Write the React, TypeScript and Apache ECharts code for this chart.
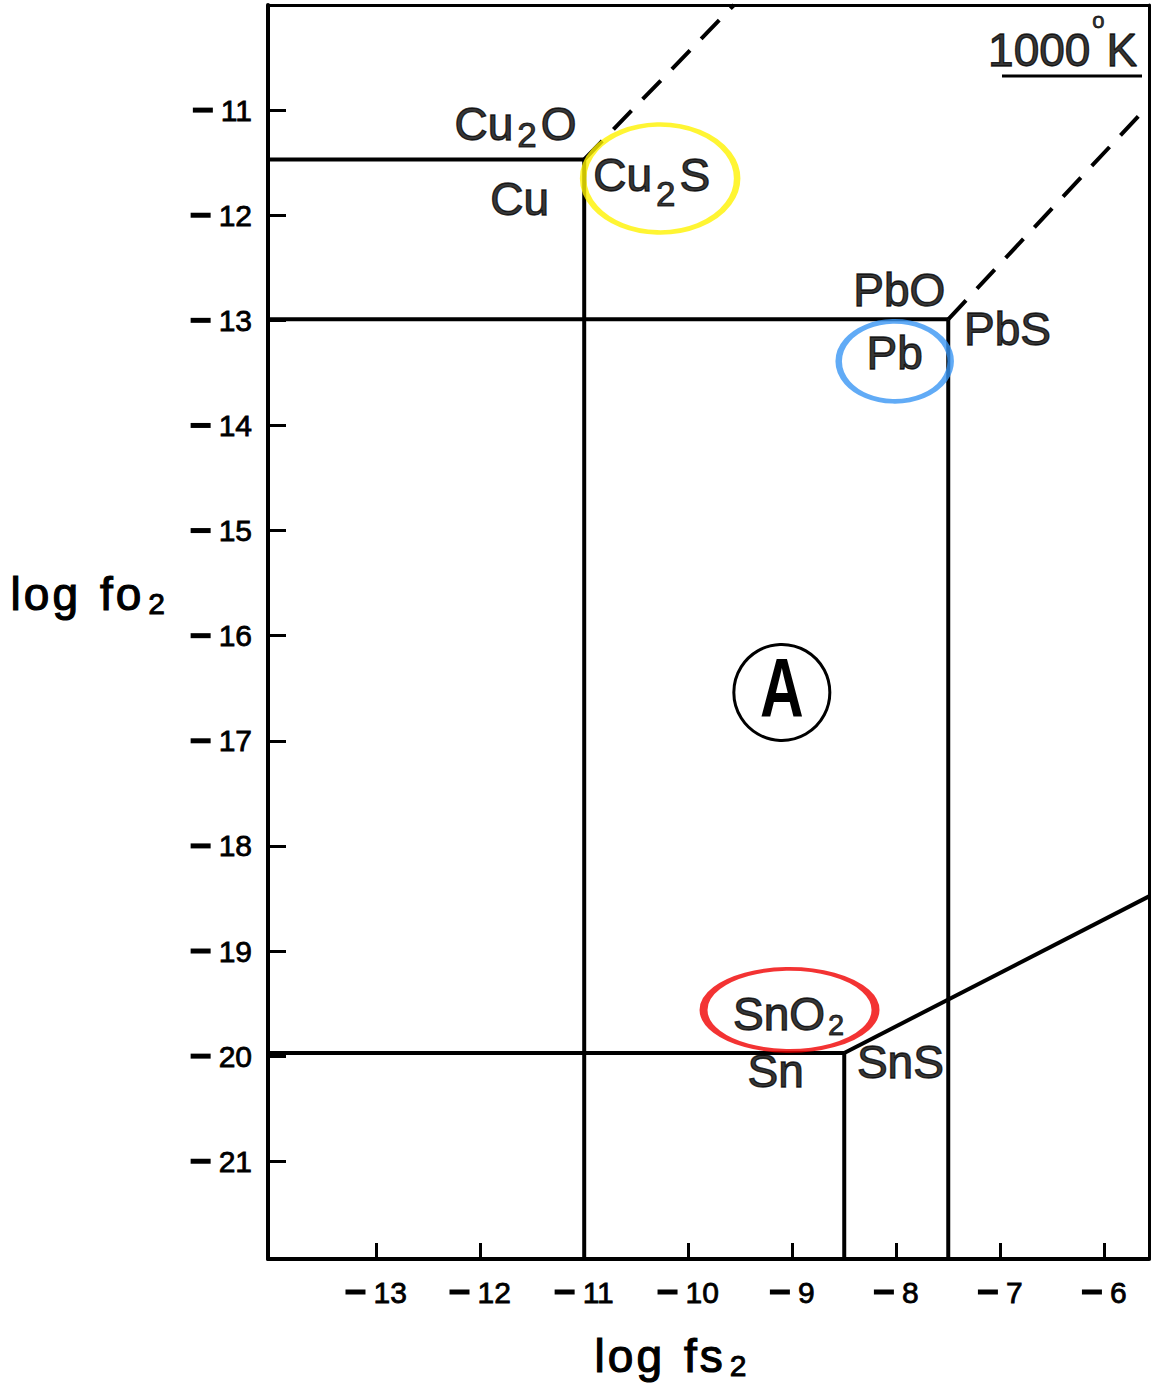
import React, { useEffect, useRef } from 'react';
import * as echarts from 'echarts';

// ---- axis extents and ticks (log fS2 on x, log fO2 on y) ----
const X_MIN = -14.04;
const X_MAX = -5.57;
const Y_MIN = -21.93;
const Y_MAX = -10;
const X_TICKS = [-13, -12, -11, -10, -9, -8, -7, -6];
const Y_TICKS = [-11, -12, -13, -14, -15, -16, -17, -18, -19, -20, -21];

// ---- phase boundaries [log fS2, log fO2] ----
const cuOxideBoundary = [[X_MIN, -11.47], [-11, -11.47]];
const cuSulfideBoundary = [[-11, -11.47], [-11, Y_MIN]];
const cuOxideSulfideDashed = [[-11, -11.47], [-9.56, Y_MAX]];
const pbOxideBoundary = [[X_MIN, -12.99], [-7.5, -12.99]];
const pbSulfideBoundary = [[-7.5, -12.99], [-7.5, Y_MIN]];
const pbOxideSulfideDashed = [[-7.5, -12.99], [X_MAX, -10.95]];
const snOxideBoundary = [[X_MIN, -19.97], [-8.5, -19.97]];
const snSulfideBoundary = [[-8.5, -19.97], [-8.5, Y_MIN]];
const snOxideSulfideBoundary = [[-8.5, -19.97], [X_MAX, -18.48]];

// ---- field labels ----
const labelTexts = [
  '{m|Cu}{s|2}{m|O}',
  '{m|Cu}',
  '{m|Cu}{t|2}{m|S}',
  '{m|PbO}',
  '{m|PbS}',
  '{m|Pb}',
  '{m|SnO}{u|2}',
  '{m|Sn}',
  '{m|SnS}',
  '{m|1000}{d|o}{m|K}',
];
const labelPositions = [
  [-11.66, -11.13],
  [-11.62, -11.85],
  [-10.35, -11.62],
  [-7.97, -12.71],
  [-6.93, -13.08],
  [-8.015, -13.31],
  [-9.035, -19.6],
  [-9.16, -20.14],
  [-7.96, -20.06],
  [-6.4, -10.43],
];

// ---- highlight rings around labels ----
const ringPositions = [
  [-10.27, -11.65],
  [-8.015, -13.39],
  [-9.026, -19.56],
];
const ringSizes = [
  [154, 108],
  [112, 80],
  [172, 82],
];
const ringColors = ['#FFF200', '#3A96F4', '#F00000'];

// ---- circled field marker ----
const fieldMarkerPosition = [-9.1, -16.54];
const fieldMarkerText = 'A';

const FONT = '"Liberation Sans", Arial, Helvetica, sans-serif';

const lineSeries = (data: number[][], dashed = false) => ({
  type: 'line',
  data,
  symbol: 'none',
  silent: true,
  clip: false,
  lineStyle: {
    color: '#000',
    width: 4,
    type: dashed ? [26, 16] : 'solid',
    cap: 'butt',
  },
  z: 2,
});

const tok = (fontSize: number, extra: any = {}) => ({
  fontSize,
  color: '#000',
  fontFamily: FONT,
  textBorderColor: '#000',
  textBorderWidth: 1.3,
  verticalAlign: 'middle',
  ...extra,
});

const richStyles = {
  m: tok(46, { lineHeight: 90 }),
  s: tok(35, { lineHeight: 35, padding: [22, 4, 0, 4], textBorderWidth: 1 }),
  t: tok(35, { lineHeight: 35, padding: [36, 4, 0, 4], textBorderWidth: 1 }),
  u: tok(29, { lineHeight: 29, padding: [21, 0, 0, 3], textBorderWidth: 0.9 }),
  d: tok(22, { lineHeight: 22, padding: [0, 2, 60, 2], textBorderWidth: 0.8 }),
};

// zrender-style rich tokens for graphic texts
const gtok = (fontSize: number, extra: any = {}) => ({
  fontSize,
  fontFamily: FONT,
  fill: '#000',
  stroke: '#000',
  lineWidth: 1.2,
  verticalAlign: 'middle',
  ...extra,
});
const titleRich = {
  m: gtok(46, { lineHeight: 50 }),
  k: gtok(46, { lineHeight: 50, width: 3, lineWidth: 0 }),
  g: gtok(46, { lineHeight: 50, width: 22, lineWidth: 0 }),
  s: gtok(30, { lineHeight: 30, padding: [19, 0, 0, 7], lineWidth: 0.9 }),
};
const spaced = (word: string) => word.split('').map((c) => '{m|' + c + '}').join('{k| }');

const tickRich = {
  n: { width: 20, height: 5, lineHeight: 5, backgroundColor: '#000', fontSize: 5, verticalAlign: 'middle' },
  sp: { width: 8, fontSize: 30, verticalAlign: 'middle' },
  d: { fontSize: 30, color: '#000', fontFamily: FONT, textBorderColor: '#000', textBorderWidth: 0.8, verticalAlign: 'middle' },
};
const tickFormatter = (v: number) => '{n| }{sp| }{d|' + Math.abs(v) + '}';

export default function App() {
  const ref = useRef<HTMLDivElement>(null);

  useEffect(() => {
    if (!ref.current) return;
    const chart = echarts.init(ref.current, undefined, { renderer: 'svg' });

    const option: any = {
      animation: false,
      backgroundColor: '#fff',
      grid: { left: 268, top: 5, width: 881, height: 1254, containLabel: false },
      xAxis: [
        {
          type: 'value',
          min: X_MIN,
          max: X_MAX,
          position: 'bottom',
          axisLine: { show: true, onZero: false, lineStyle: { color: '#000', width: 4 } },
          axisTick: { show: true, inside: true, length: 16, customValues: X_TICKS, lineStyle: { color: '#000', width: 3 } },
          axisLabel: {
            show: true,
            customValues: X_TICKS,
            formatter: tickFormatter,
            rich: tickRich,
            margin: 18,
          },
          splitLine: { show: false },
        },
        {
          type: 'value',
          min: X_MIN,
          max: X_MAX,
          position: 'top',
          axisLine: { show: true, onZero: false, lineStyle: { color: '#000', width: 3 } },
          axisTick: { show: false },
          axisLabel: { show: false },
          splitLine: { show: false },
        },
      ],
      yAxis: [
        {
          type: 'value',
          min: Y_MIN,
          max: Y_MAX,
          position: 'left',
          axisLine: { show: true, onZero: false, lineStyle: { color: '#000', width: 4 } },
          axisTick: { show: true, inside: true, length: 18, customValues: Y_TICKS, lineStyle: { color: '#000', width: 3 } },
          axisLabel: {
            show: true,
            customValues: Y_TICKS,
            formatter: tickFormatter,
            rich: tickRich,
            margin: 16,
          },
          splitLine: { show: false },
        },
        {
          type: 'value',
          min: Y_MIN,
          max: Y_MAX,
          position: 'right',
          axisLine: { show: true, onZero: false, lineStyle: { color: '#000', width: 3 } },
          axisTick: { show: false },
          axisLabel: { show: false },
          splitLine: { show: false },
        },
      ],
      series: [
        lineSeries(cuOxideBoundary),
        lineSeries(cuSulfideBoundary),
        lineSeries(cuOxideSulfideDashed, true),
        lineSeries(pbOxideBoundary),
        lineSeries(pbSulfideBoundary),
        lineSeries(pbOxideSulfideDashed, true),
        lineSeries(snOxideBoundary),
        lineSeries(snSulfideBoundary),
        lineSeries(snOxideSulfideBoundary),
        {
          type: 'scatter',
          silent: true,
          z: 3,
          data: ringPositions.map((p, i) => ({
            value: p,
            symbol: 'circle',
            symbolSize: ringSizes[i],
            itemStyle: { color: 'rgba(0,0,0,0)', borderColor: ringColors[i], borderWidth: 5.5 },
          })),
        },
        {
          type: 'custom',
          silent: true,
          z: 4,
          data: [fieldMarkerPosition],
          renderItem: (params: any, api: any) => {
            const c = api.coord([api.value(0), api.value(1)]);
            return {
              type: 'group',
              children: [
                {
                  type: 'circle',
                  shape: { cx: c[0], cy: c[1], r: 48 },
                  style: { fill: 'none', stroke: '#000', lineWidth: 3 },
                },
                {
                  type: 'text',
                  x: c[0],
                  y: c[1] - 4,
                  scaleX: 0.72,
                  style: {
                    text: fieldMarkerText,
                    fontSize: 84,
                    fontWeight: 'bold',
                    fontFamily: FONT,
                    fill: '#000',
                    align: 'center',
                    verticalAlign: 'middle',
                  },
                },
              ],
            };
          },
        },
        {
          type: 'scatter',
          silent: true,
          z: 5,
          symbolSize: 0,
          data: labelPositions.map((p, i) => ({
            value: p,
            label: {
              show: true,
              position: 'inside',
              formatter: labelTexts[i],
              rich: richStyles,
            },
          })),
        },
      ],
      graphic: [
        {
          type: 'line',
          silent: true,
          shape: { x1: 1002, y1: 76, x2: 1142, y2: 76 },
          style: { stroke: '#000', lineWidth: 3 },
        },
        {
          type: 'text',
          left: 10,
          top: 569,
          silent: true,
          style: { text: spaced('log') + '{g| }' + spaced('fo') + '{s|2}', rich: titleRich },
        },
        {
          type: 'text',
          left: 594,
          top: 1331,
          silent: true,
          style: { text: spaced('log') + '{g| }' + spaced('fs') + '{s|2}', rich: titleRich },
        },
      ],
    };

    chart.setOption(option);
    return () => chart.dispose();
  }, []);

  return (
    <div
      ref={ref}
      style={{ position: 'fixed', left: 0, top: 0, width: 1154, height: 1383, background: '#fff' }}
    />
  );
}
